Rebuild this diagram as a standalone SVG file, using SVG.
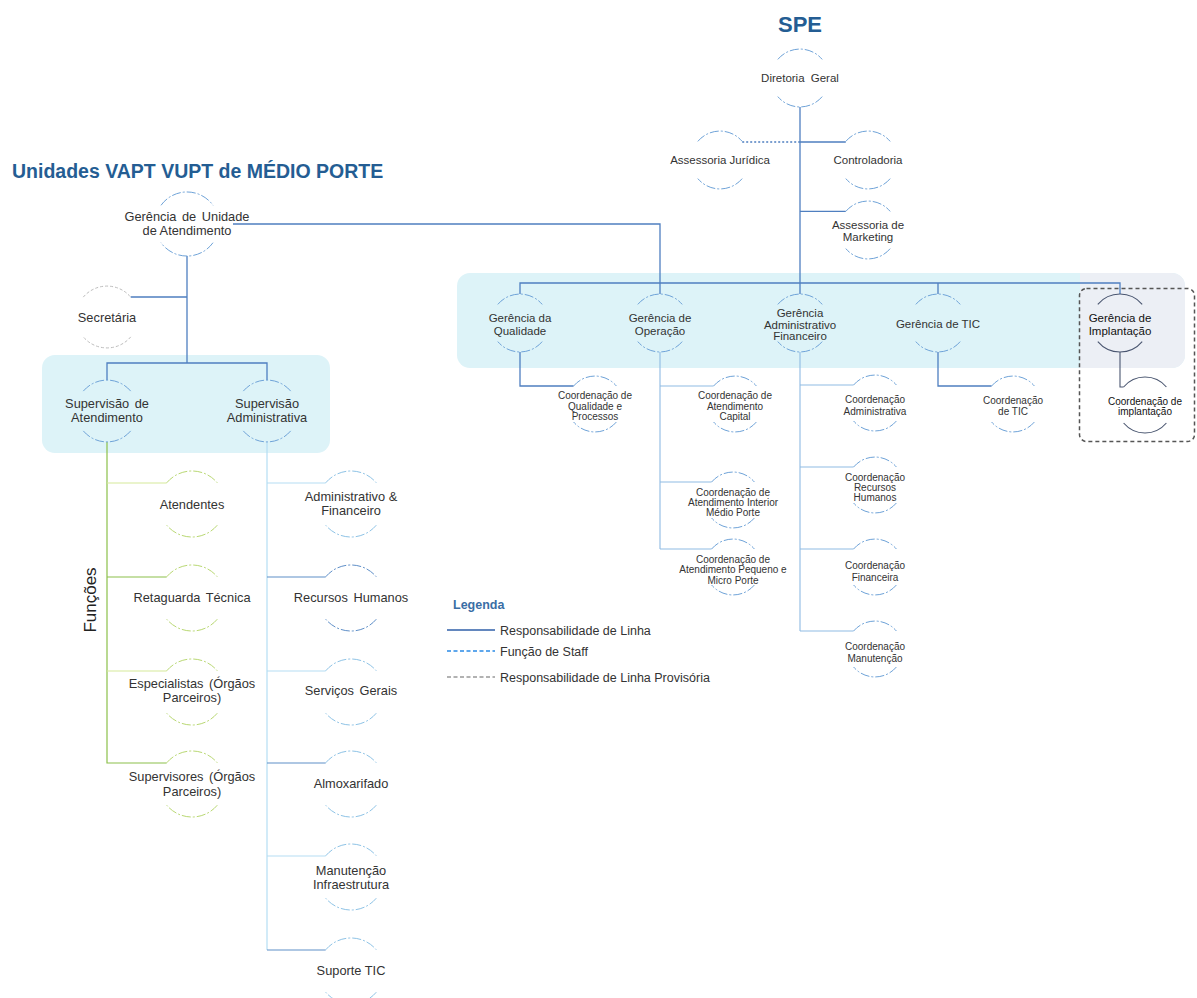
<svg xmlns="http://www.w3.org/2000/svg" width="1197" height="998" viewBox="0 0 1197 998">
<defs>
<style>
text{font-family:"Liberation Sans",Arial,sans-serif;fill:#333;text-anchor:middle}
.t1{font-size:11.5px}
.t2{font-size:10px}
.t3{font-size:12.8px}
.title{font-weight:bold;fill:#245d93;text-anchor:start}
.arc{fill:none;stroke:#6fa3d8;stroke-width:1;stroke-dasharray:9 2 2 2}
.arcd{fill:none;stroke:#4a5670;stroke-width:1.1}
.arcg{fill:none;stroke:#b9d873;stroke-width:1;stroke-dasharray:9 2 2 2}
.arcgr{fill:none;stroke:#bdbdbd;stroke-width:1;stroke-dasharray:3 2}
.arcl{fill:none;stroke:#8ec3e6;stroke-width:1;stroke-dasharray:9 2 2 2}
.arcb{fill:none;stroke:#5f8fc8;stroke-width:1;stroke-dasharray:9 2 2 2}
.ln{fill:none;stroke:#4f7fc0;stroke-width:1.3}
.lns{fill:none;stroke:#8fbbe3;stroke-width:1.1}
.lnd{fill:none;stroke:#4f7fc0;stroke-width:1.3;stroke-dasharray:2 2}
.lg{fill:none;stroke:#8cc04a;stroke-width:1.2}
.lgl{fill:none;stroke:#d6e99a;stroke-width:1.2}
.lb{fill:none;stroke:#b5def3;stroke-width:1.2}
.lbd{fill:none;stroke:#5f8fc8;stroke-width:1.2}
</style>
<clipPath id="bandclip"><rect x="457" y="273" width="728" height="95" rx="13"/></clipPath>
</defs>

<!-- backgrounds -->
<rect x="457" y="273" width="728" height="95" rx="13" fill="#ddf3f8"/>
<rect x="1080" y="273" width="110" height="100" fill="#eceff5" clip-path="url(#bandclip)"/>
<rect x="42" y="355" width="288" height="98" rx="13" fill="#ddf3f8"/>
<rect x="1079.5" y="288.5" width="115" height="153" rx="7" fill="none" stroke="#555" stroke-width="1.5" stroke-dasharray="4 3"/>

<!-- titles -->
<text class="title" x="778" y="32" style="font-size:22px">SPE</text>
<text class="title" x="12" y="178" style="font-size:19.5px">Unidades VAPT VUPT de MÉDIO PORTE</text>

<!-- connectors -->
<g id="connectors">
<path class="ln" d="M800,107 V294 M520,294 V283 H1120 V294 M938,283 V294 M800,142 H845.8 M800,211.4 H845.8"/>
<path class="lnd" d="M742.2,142 H800"/>
<path class="ln" d="M233,224 H660 V294"/>
<path class="ln" d="M187,256 V363 M107,380 V363 H267 V380 M130.7,297 H187"/>
<path class="ln" d="M520,352 V386 H573.6 M938,352 V386 H991.6"/>
<path class="lns" d="M660,352 V549 M660,386 H713.6 M660,482 H711.6 M660,549 H711.6"/>
<path class="lns" d="M800,352 V631 M800,385 H853.6 M800,467 H853.6 M800,549 H853.6 M800,631 H853.6"/>
<path class="arcd" d="M1120,352 V387 H1123.6"/>
<path class="lg" d="M107,442 V763 H166.7 M107,577 H166.7"/>
<path class="lgl" d="M107,483 H166.7 M107,671 H166.7"/>
<path class="lb" d="M267,442 V950 M267,483 H325.7 M267,671 H325.7 M267,856 H325.7"/>
<path class="lbd" d="M267,577 H325.7 M267,763 H325.7 M267,950 H325.7"/>
</g>

<!-- SPE nodes -->
<g id="n-diretoria"><path class="arc" d="M777.8,59.4 A29,29 0 0 1 822.2,59.4 M822.2,96.6 A29,29 0 0 1 777.8,96.6"/><text class="t1" x="800" y="82" style="word-spacing:3px">Diretoria Geral</text></g>
<g id="n-juridica"><path class="arc" d="M697.8,141.4 A29,29 0 0 1 742.2,141.4 M742.2,178.6 A29,29 0 0 1 697.8,178.6"/><text class="t1" x="720" y="164">Assessoria Jurídica</text></g>
<g id="n-controladoria"><path class="arc" d="M845.8,141.4 A29,29 0 0 1 890.2,141.4 M890.2,178.6 A29,29 0 0 1 845.8,178.6"/><text class="t1" x="868" y="164">Controladoria</text></g>
<g id="n-marketing"><path class="arc" d="M845.8,211.4 A29,29 0 0 1 890.2,211.4 M890.2,248.6 A29,29 0 0 1 845.8,248.6"/><text class="t1" x="868" y="229">Assessoria de</text><text class="t1" x="868" y="241">Marketing</text></g>

<g id="n-qualidade"><path class="arc" d="M497.8,304.4 A29,29 0 0 1 542.2,304.4 M542.2,341.6 A29,29 0 0 1 497.8,341.6"/><text class="t1" x="520" y="322">Gerência da</text><text class="t1" x="520" y="335">Qualidade</text></g>
<g id="n-operacao"><path class="arc" d="M637.8,304.4 A29,29 0 0 1 682.2,304.4 M682.2,341.6 A29,29 0 0 1 637.8,341.6"/><text class="t1" x="660" y="322">Gerência de</text><text class="t1" x="660" y="335">Operação</text></g>
<g id="n-admfin"><path class="arc" d="M777.8,304.4 A29,29 0 0 1 822.2,304.4 M822.2,341.6 A29,29 0 0 1 777.8,341.6"/><text class="t1" x="800" y="317">Gerência</text><text class="t1" x="800" y="328.5">Administrativo</text><text class="t1" x="800" y="340">Financeiro</text></g>
<g id="n-tic"><path class="arc" d="M915.8,304.4 A29,29 0 0 1 960.2,304.4 M960.2,341.6 A29,29 0 0 1 915.8,341.6"/><text class="t1" x="938" y="328">Gerência de TIC</text></g>
<g id="n-implantacao"><path class="arcd" d="M1097.8,304.4 A29,29 0 0 1 1142.2,304.4 M1142.2,341.6 A29,29 0 0 1 1097.8,341.6"/><text class="t1" x="1120" y="322" style="fill:#111">Gerência de</text><text class="t1" x="1120" y="335" style="fill:#111">Implantação</text></g>

<g id="n-c-qualidade"><path class="arc" d="M573.6,386 A28,28 0 0 1 616.4,386 M616.4,422 A28,28 0 0 1 573.6,422"/><text class="t2" x="595" y="398.5">Coordenação de</text><text class="t2" x="595" y="409.5">Qualidade e</text><text class="t2" x="595" y="420">Processos</text></g>
<g id="n-c-capital"><path class="arc" d="M713.6,386 A28,28 0 0 1 756.4,386 M756.4,422 A28,28 0 0 1 713.6,422"/><text class="t2" x="735" y="398.5">Coordenação de</text><text class="t2" x="735" y="409.5">Atendimento</text><text class="t2" x="735" y="420">Capital</text></g>
<g id="n-c-interior"><path class="arc" d="M711.6,482 A28,28 0 0 1 754.4,482 M754.4,518 A28,28 0 0 1 711.6,518"/><text class="t2" x="733" y="495.5">Coordenação de</text><text class="t2" x="733" y="505.5">Atendimento Interior</text><text class="t2" x="733" y="516">Médio Porte</text></g>
<g id="n-c-pequeno"><path class="arc" d="M711.6,549 A28,28 0 0 1 754.4,549 M754.4,585 A28,28 0 0 1 711.6,585"/><text class="t2" x="733" y="562.5">Coordenação de</text><text class="t2" x="733" y="573">Atendimento Pequeno e</text><text class="t2" x="733" y="583.5">Micro Porte</text></g>
<g id="n-c-administrativa"><path class="arc" d="M853.6,385 A28,28 0 0 1 896.4,385 M896.4,421 A28,28 0 0 1 853.6,421"/><text class="t2" x="875" y="403">Coordenação</text><text class="t2" x="875" y="414.5">Administrativa</text></g>
<g id="n-c-rh"><path class="arc" d="M853.6,467 A28,28 0 0 1 896.4,467 M896.4,503 A28,28 0 0 1 853.6,503"/><text class="t2" x="875" y="481">Coordenação</text><text class="t2" x="875" y="491">Recursos</text><text class="t2" x="875" y="501">Humanos</text></g>
<g id="n-c-financeira"><path class="arc" d="M853.6,549 A28,28 0 0 1 896.4,549 M896.4,585 A28,28 0 0 1 853.6,585"/><text class="t2" x="875" y="568.5">Coordenação</text><text class="t2" x="875" y="580.5">Financeira</text></g>
<g id="n-c-manutencao"><path class="arc" d="M853.6,631 A28,28 0 0 1 896.4,631 M896.4,667 A28,28 0 0 1 853.6,667"/><text class="t2" x="875" y="649.5">Coordenação</text><text class="t2" x="875" y="661.5">Manutenção</text></g>
<g id="n-c-tic"><path class="arc" d="M991.6,386 A28,28 0 0 1 1034.4,386 M1034.4,422 A28,28 0 0 1 991.6,422"/><text class="t2" x="1013" y="403.5">Coordenação</text><text class="t2" x="1013" y="415">de TIC</text></g>
<g id="n-c-implantacao"><path class="arcd" d="M1123.6,387 A28,28 0 0 1 1166.4,387 M1166.4,423 A28,28 0 0 1 1123.6,423"/><text class="t2" x="1145" y="404.5" style="fill:#111">Coordenação de</text><text class="t2" x="1145" y="415" style="fill:#111">implantação</text></g>

<!-- Unidades nodes -->
<g id="n-gerencia-unidade"><path class="arc" d="M161,205.3 A32,32 0 0 1 213,205.3 M213,242.7 A32,32 0 0 1 161,242.7"/><text class="t3" x="187" y="221" style="word-spacing:2px">Gerência de Unidade</text><text class="t3" x="187" y="235">de Atendimento</text></g>
<g id="n-secretaria"><path class="arcgr" d="M83.3,297.1 A31,31 0 0 1 130.7,297.1 M130.7,336.9 A31,31 0 0 1 83.3,336.9"/><text class="t3" x="107" y="322">Secretária</text></g>
<g id="n-sup-atend"><path class="arc" d="M83.3,391.1 A31,31 0 0 1 130.7,391.1 M130.7,430.9 A31,31 0 0 1 83.3,430.9"/><text class="t3" x="107" y="408" style="word-spacing:2px">Supervisão de</text><text class="t3" x="107" y="422">Atendimento</text></g>
<g id="n-sup-adm"><path class="arc" d="M243.3,391.1 A31,31 0 0 1 290.7,391.1 M290.7,430.9 A31,31 0 0 1 243.3,430.9"/><text class="t3" x="267" y="408">Supervisão</text><text class="t3" x="267" y="422">Administrativa</text></g>

<text x="96" y="600" transform="rotate(-90 96 600)" style="font-size:17px;fill:#222">Funções</text>

<g id="n-atendentes"><path class="arcg" d="M166.7,482.8 A33,33 0 0 1 217.3,482.8 M217.3,525.2 A33,33 0 0 1 166.7,525.2"/><text class="t3" x="192" y="509">Atendentes</text></g>
<g id="n-retaguarda"><path class="arcg" d="M166.7,576.8 A33,33 0 0 1 217.3,576.8 M217.3,619.2 A33,33 0 0 1 166.7,619.2"/><text class="t3" x="192" y="602" style="word-spacing:2px">Retaguarda Técnica</text></g>
<g id="n-especialistas"><path class="arcg" d="M166.7,670.8 A33,33 0 0 1 217.3,670.8 M217.3,713.2 A33,33 0 0 1 166.7,713.2"/><text class="t3" x="192" y="688" style="word-spacing:2px">Especialistas (Órgãos</text><text class="t3" x="192" y="702">Parceiros)</text></g>
<g id="n-supervisores"><path class="arcg" d="M166.7,762.8 A33,33 0 0 1 217.3,762.8 M217.3,805.2 A33,33 0 0 1 166.7,805.2"/><text class="t3" x="192" y="781" style="word-spacing:2px">Supervisores (Órgãos</text><text class="t3" x="192" y="796">Parceiros)</text></g>

<g id="n-admfin2"><path class="arcl" d="M325.7,482.8 A33,33 0 0 1 376.3,482.8 M376.3,525.2 A33,33 0 0 1 325.7,525.2"/><text class="t3" x="351" y="501">Administrativo &amp;</text><text class="t3" x="351" y="515">Financeiro</text></g>
<g id="n-rh"><path class="arcb" d="M325.7,576.8 A33,33 0 0 1 376.3,576.8 M376.3,619.2 A33,33 0 0 1 325.7,619.2"/><text class="t3" x="351" y="602" style="word-spacing:2px">Recursos Humanos</text></g>
<g id="n-servicos"><path class="arcl" d="M325.7,670.8 A33,33 0 0 1 376.3,670.8 M376.3,713.2 A33,33 0 0 1 325.7,713.2"/><text class="t3" x="351" y="695" style="word-spacing:2px">Serviços Gerais</text></g>
<g id="n-almox"><path class="arcl" d="M325.7,762.8 A33,33 0 0 1 376.3,762.8 M376.3,805.2 A33,33 0 0 1 325.7,805.2"/><text class="t3" x="351" y="788">Almoxarifado</text></g>
<g id="n-manut"><path class="arcl" d="M325.7,855.8 A33,33 0 0 1 376.3,855.8 M376.3,898.2 A33,33 0 0 1 325.7,898.2"/><text class="t3" x="351" y="875">Manutenção</text><text class="t3" x="351" y="889">Infraestrutura</text></g>
<g id="n-suporte"><path class="arcl" d="M325.7,949.8 A33,33 0 0 1 376.3,949.8 M376.3,992.2 A33,33 0 0 1 325.7,992.2"/><text class="t3" x="351" y="975">Suporte TIC</text></g>

<!-- legend -->
<g id="legend">
<text x="453" y="609" style="font-size:12.5px;font-weight:bold;fill:#3a6ea5;text-anchor:start">Legenda</text>
<line x1="447" y1="630" x2="495" y2="630" stroke="#2f5fa8" stroke-width="1.5"/>
<line x1="447" y1="651" x2="495" y2="651" stroke="#2a8ae6" stroke-width="1.5" stroke-dasharray="4 2.5"/>
<line x1="447" y1="677" x2="495" y2="677" stroke="#666" stroke-width="1.2" stroke-dasharray="4 2.5"/>
<text x="500" y="634.5" style="font-size:12.5px;text-anchor:start">Responsabilidade de Linha</text>
<text x="500" y="655.5" style="font-size:12.5px;text-anchor:start">Função de Staff</text>
<text x="500" y="681.5" style="font-size:12.5px;text-anchor:start">Responsabilidade de Linha Provisória</text>
</g>
</svg>
